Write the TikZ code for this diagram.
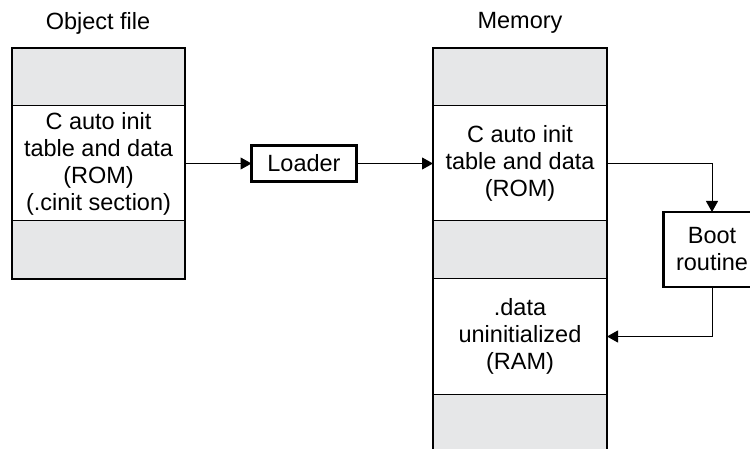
\documentclass[tikz,border=0pt]{standalone}
\usepackage{fontspec}
\setmainfont{Liberation Sans}
\usetikzlibrary{arrows.meta}
\definecolor{secgray}{HTML}{E6E7E8}
\begin{document}
\begin{tikzpicture}[x=1pt,y=-1pt,
  every node/.style={font=\fontsize{23.5}{27}\selectfont, inner sep=0pt, outer sep=0pt},
  graysec/.style={draw, line width=1pt, fill=secgray, minimum width=#1},
  whitesec/.style={draw, line width=1pt, fill=white, minimum width=#1, align=center},
  procbox/.style={draw, line width=2.8pt, fill=white, align=center},
  conn/.style={line width=1pt, -{Triangle[length=11pt,width=12pt]}},
  title/.style={anchor=center}]
\clip (0,0) rectangle (750,449);
\fill[white] (0,0) rectangle (750,449);

% titles
\node[title] (tobj) at (98,23) {Object file};
\node[title] (tmem) at (520,23) {Memory};

% object file column
\node[graysec=173pt, minimum height=58pt] (o1) at (98.5,77) {};
\node[whitesec=173pt, minimum height=115pt] (o2) at (98.5,163.5) {C auto init\\table and data\\(ROM)\\(.cinit section)};
\node[graysec=173pt, minimum height=58pt] (o3) at (98.5,250) {};
\draw[line width=2pt] (o1.north west) rectangle (o3.south east);

% memory column
\node[graysec=174pt, minimum height=58pt] (m1) at (520,77) {};
\node[whitesec=174pt, minimum height=115pt] (m2) at (520,163.5) {C auto init\\table and data\\(ROM)};
\node[graysec=174pt, minimum height=58pt] (m3) at (520,250) {};
\node[whitesec=174pt, minimum height=115pt] (m4) at (520,336.5) {.data\\uninitialized\\(RAM)};
\node[graysec=174pt, minimum height=70pt] (m5) at (520,429) {};
\draw[line width=2pt] (m5.south west) -- (m1.north west) -- (m1.north east) -- (m5.south east);

% process boxes
\node[procbox, minimum width=105pt, minimum height=36pt] (loader) at (304,163.5) {Loader};
\node[procbox, minimum width=97pt, minimum height=75pt] (boot) at (712,249.5) {Boot\\routine};

% connectors
\draw[conn] (o2.east) -- (loader.west);
\draw[conn] (loader.east) -- (m2.west);
\draw[conn] (m2.east) -| (boot.north);
\draw[conn] (boot.south) |- (m4.east);
\end{tikzpicture}
\end{document}
